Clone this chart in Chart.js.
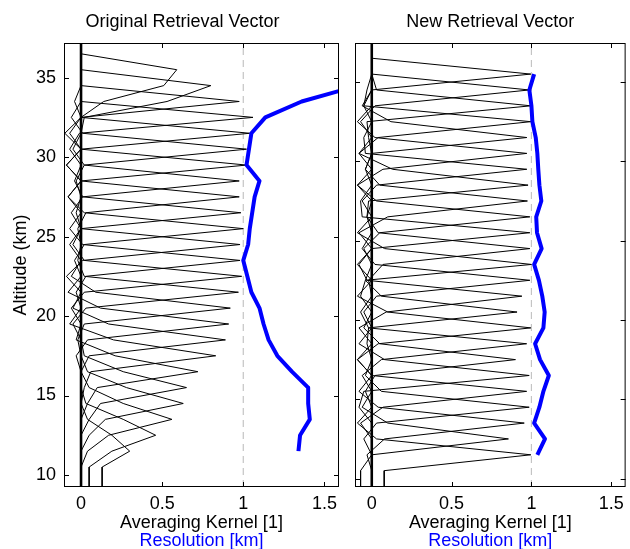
<!DOCTYPE html>
<html>
<head>
<meta charset="utf-8">
<script src="https://cdn.jsdelivr.net/npm/chart.js@4.4.1/dist/chart.umd.min.js"></script>
<style>
  html, body { margin: 0; padding: 0; background: #fff; overflow: hidden; }
  #wrap { position: relative; width: 630px; height: 549px; }
  #left { position: absolute; left: 0; top: 0; }
  #right { position: absolute; left: 345px; top: 0; }
</style>
</head>
<body>
<div id="wrap">
  <canvas id="left" width="345" height="549"></canvas>
  <canvas id="right" width="285" height="549"></canvas>
</div>
<script>
// altitude grid of the retrieval (km)
const gridAlt = [36.5, 35.5, 34.5, 33.5, 32.5, 31.5, 30.5, 29.5, 28.5, 27.5, 26.5, 25.5, 24.5,
  23.5, 22.5, 21.5, 20.5, 19.5, 18.5, 17.5, 16.5, 15.5, 14.5, 13.5, 12.5, 11.5, 10.5];
// nominal altitude of each averaging kernel
const kernelAlt = [35.5, 34.5, 33.5, 32.5, 31.5, 30.5, 29.5, 28.5, 27.5, 26.5, 25.5, 24.5, 23.5,
  22.5, 21.5, 20.5, 19.5, 18.5, 17.5, 16.5, 15.5, 14.5, 13.5, 12.5, 11.5];
// kernels stay flat below the lowest level
const floorAlt = 8.5;

// original retrieval vector: kernel value at its own level, one/two levels above and below
const origPeak = [0.59, 0.80, 0.975, 1.06, 1.04, 1.02, 1.02, 0.975, 0.975, 0.985, 1.00, 0.98, 0.98,
  0.99, 0.97, 0.92, 0.91, 0.89, 0.83, 0.72, 0.65, 0.63, 0.56, 0.46, 0.30];
const origUp1 = [0, 0, 0, 0, 0, 0.01, 0, 0.02, 0, 0.01, 0.02, 0, 0.01,
  0.02, 0.02, 0.09, 0.12, 0.17, 0.20, 0.21, 0.26, 0.28, 0.26, 0.26, 0.19];
const origDn1 = [0.51, 0.53, 0, -0.01, 0, 0.02, 0, 0.01, 0.03, 0, 0.02, 0.01, 0.03,
  0.02, 0.03, 0.02, 0.04, 0.05, 0.06, 0.10, 0.12, 0.15, 0.17, 0.19, 0.13];
const origUp2 = [0, 0, 0, 0, -0.04, -0.06, -0.10, -0.05, -0.09, -0.04, -0.08, -0.03, -0.07,
  -0.05, -0.02, -0.06, -0.08, -0.05, -0.07, -0.03, 0.02, 0.04, 0.05, 0.03, 0.04];
const origDn2 = [0.14, 0.02, -0.07, -0.07, -0.09, -0.03, -0.08, -0.06, -0.02, -0.07, -0.04, -0.09, -0.03,
  -0.06, -0.05, -0.02, -0.03, 0, 0.02, 0.04, 0.05, 0.05, 0.04, 0.05, 0];

// new retrieval vector
const newPeak = [0.996, 0.986, 0.996, 0.996, 0.971, 0.971, 0.971, 0.979, 0.975, 0.99, 0.99, 0.99, 1.0,
  0.99, 0.94, 0.91, 0.996, 0.97, 0.90, 0.986, 0.97, 0.986, 0.955, 0.856, 0.996];
const newUp1 = [0, 0, 0.03, -0.05, 0.12, 0.02, -0.04, 0.13, 0.05, 0.03, -0.06, 0.04, 0.08,
  0.02, -0.03, 0.06, 0.10, -0.02, 0.05, 0.08, 0, 0.06, 0.04, 0.10, 0.03];
const newDn1 = [0, 0.02, -0.03, 0.04, 0, 0.07, 0.03, -0.02, 0.10, 0.05, 0, 0.07, -0.04,
  0.03, 0.09, -0.02, 0.04, 0.06, 0.02, -0.05, 0.07, 0.03, 0.08, 0, 0.078];
const newUp2 = [0, 0, 0, -0.03, -0.06, -0.09, -0.05, -0.08, -0.04, -0.09, -0.07, -0.03, -0.09,
  -0.06, -0.08, -0.04, -0.09, -0.07, -0.05, -0.08, -0.09, -0.04, -0.08, -0.06, -0.09];
const newDn2 = [-0.05, -0.07, -0.02, -0.08, -0.04, -0.09, -0.06, -0.03, -0.08, -0.05, -0.09, -0.02, -0.07,
  -0.05, -0.08, -0.03, -0.09, -0.06, -0.04, -0.08, -0.07, -0.05, -0.03, -0.07, 0];

// resolution (km)
const origResAlt = [34.5, 33.5, 32.5, 31.5, 30.5, 29.5, 28.5, 27.5, 26.5, 25.5, 24.5, 23.5,
  22.5, 21.5, 20.5, 19.5, 18.5, 17.5, 16.5, 15.5, 14.5, 13.5, 12.5, 11.5];
const origRes = [1.71, 1.36, 1.136, 1.05, 1.035, 1.02, 1.10, 1.07, 1.055, 1.04, 1.03, 1.00,
  1.025, 1.05, 1.10, 1.125, 1.156, 1.21, 1.30, 1.40, 1.40, 1.41, 1.35, 1.34];
const newResAlt = kernelAlt;
const newRes = [1.017, 0.987, 1.00, 1.006, 1.027, 1.037, 1.043, 1.05, 1.062, 1.03, 1.035, 1.064, 1.017,
  1.047, 1.068, 1.083, 1.075, 1.023, 1.054, 1.109, 1.075, 1.05, 1.017, 1.085, 1.037];

const xMin = -0.105;
const xMax = 1.59;

Chart.defaults.font.family = '"Liberation Sans", Arial, sans-serif';
Chart.defaults.font.size = 18;
Chart.defaults.color = '#000';

function kernelData(peak, up1, dn1, up2, dn2) {
  return kernelAlt.map((z, i) => {
    const byOffset = { '0': peak[i], '1': up1[i], '-1': dn1[i], '2': up2[i], '-2': dn2[i] };
    const pts = gridAlt.map((a) => {
      const v = byOffset[String(Math.round(a - z))];
      return { x: v === undefined ? 0 : v, y: a };
    });
    pts.push({ x: pts[pts.length - 1].x, y: floorAlt });
    return pts;
  });
}

function panelDatasets(kernels, resAlt, res, yMin, yMax) {
  const sets = kernels.map((pts) => ({
    data: pts,
    showLine: true,
    borderColor: '#000',
    borderWidth: 1,
    order: 3,
  }));
  sets.push({
    data: [{ x: 0, y: yMin }, { x: 0, y: yMax }],
    showLine: true,
    borderColor: '#000',
    borderWidth: 2.6,
    order: 2,
  });
  sets.push({
    data: [{ x: 1, y: yMin }, { x: 1, y: yMax }],
    showLine: true,
    borderColor: '#c4c4c4',
    borderWidth: 1.2,
    borderDash: [7, 5],
    order: 4,
  });
  sets.push({
    data: resAlt.map((a, i) => ({ x: res[i], y: a })),
    showLine: true,
    borderColor: '#0000ff',
    borderWidth: 4,
    borderJoinStyle: 'round',
    clip: 0,
    order: 1,
  });
  return sets;
}

// box round the axes with inward ticks, as in the original figure
const boxTicks = {
  id: 'boxTicks',
  afterDatasetsDraw(chart) {
    const { ctx, chartArea: a, scales } = chart;
    const len = 5;
    ctx.save();
    ctx.strokeStyle = '#000';
    ctx.lineWidth = 1;
    ctx.beginPath();
    scales.x.ticks.forEach((t) => {
      const px = Math.round(scales.x.getPixelForValue(t.value)) + 0.5;
      ctx.moveTo(px, a.bottom);
      ctx.lineTo(px, a.bottom - len);
      ctx.moveTo(px, a.top);
      ctx.lineTo(px, a.top + len);
    });
    scales.y.ticks.forEach((t) => {
      const py = Math.round(scales.y.getPixelForValue(t.value)) + 0.5;
      ctx.moveTo(a.left, py);
      ctx.lineTo(a.left + len, py);
      ctx.moveTo(a.right, py);
      ctx.lineTo(a.right - len, py);
    });
    ctx.stroke();
    ctx.strokeRect(a.left + 0.5, a.top + 0.5, a.width - 1, a.height - 1);
    ctx.restore();
  },
};

function makeConfig(p) {
  return {
    type: 'scatter',
    data: { datasets: panelDatasets(p.kernels, p.resAlt, p.res, p.yMin, p.yMax) },
    options: {
      responsive: false,
      animation: false,
      events: [],
      elements: { point: { radius: 0 }, line: { tension: 0 } },
      layout: { padding: { left: p.padLeft, right: p.padRight, top: 0, bottom: 0 } },
      plugins: {
        legend: { display: false },
        tooltip: { enabled: false },
        title: {
          display: true,
          text: p.title,
          color: '#000',
          fullSize: p.titleFull,
          font: { size: 18, weight: 'normal' },
          padding: { top: 11, bottom: 10.4 },
        },
      },
      scales: {
        x: {
          type: 'linear',
          position: 'bottom',
          min: xMin,
          max: xMax,
          weight: 0,
          grid: { display: false, drawTicks: false },
          border: { display: false },
          ticks: {
            stepSize: 0.5,
            includeBounds: false,
            padding: 6,
            maxRotation: 0,
            autoSkip: false,
            callback: (v) => String(v),
          },
          title: { display: true, text: 'Averaging Kernel [1]', color: '#000', padding: { top: 0, bottom: -2 } },
          afterFit: (s) => { s.height = 45; },
        },
        x2: {
          type: 'linear',
          display: true,
          position: 'bottom',
          min: xMin,
          max: xMax,
          weight: 1,
          grid: { display: false, drawTicks: false },
          border: { display: false },
          ticks: { display: false },
          title: { display: true, text: 'Resolution [km]', color: '#0000ff', padding: { top: 0, bottom: -2.5 } },
          afterFit: (s) => { s.height = 17; },
        },
        y: {
          type: 'linear',
          position: 'left',
          min: p.yMin,
          max: p.yMax,
          grid: { display: false, drawTicks: false },
          border: { display: false },
          ticks: { display: p.yLabels, stepSize: 5, includeBounds: false, padding: 8 },
          title: { display: p.yLabels, text: 'Altitude (km)', color: '#000', padding: { top: -16, bottom: 0 } },
          afterFit: (s) => { s.width = p.yWidth; },
        },
      },
    },
    plugins: [boxTicks],
  };
}

const leftChart = new Chart(document.getElementById('left'), makeConfig({
  title: 'Original Retrieval Vector',
  titleFull: true,
  kernels: kernelData(origPeak, origUp1, origDn1, origUp2, origDn2),
  resAlt: origResAlt,
  res: origRes,
  yMin: 9.245,
  yMax: 37.18,
  yLabels: true,
  padLeft: 26,
  yWidth: 38,
  padRight: 6,
}));

const rightChart = new Chart(document.getElementById('right'), makeConfig({
  title: 'New Retrieval Vector',
  titleFull: false,
  kernels: kernelData(newPeak, newUp1, newDn1, newUp2, newDn2),
  resAlt: newResAlt,
  res: newRes,
  yMin: 9.47,
  yMax: 37.46,
  yLabels: false,
  padLeft: 0,
  yWidth: 10,
  padRight: 1,
}));
</script>
</body>
</html>
